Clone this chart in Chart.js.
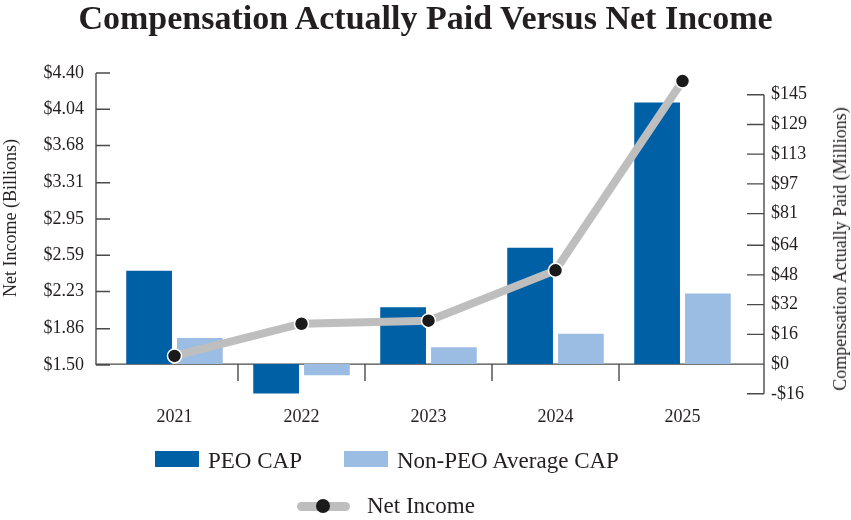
<!DOCTYPE html>
<html>
<head>
<meta charset="utf-8">
<script src="https://cdn.jsdelivr.net/npm/chart.js@4/dist/chart.umd.min.js"></script>
<style>
  html, body { margin: 0; padding: 0; background: #fff; }
  #wrap { position: relative; width: 851px; height: 520px; overflow: hidden; font-family: 'Liberation Serif', 'DejaVu Serif', serif; color: #231f20; }
  #c { position: absolute; left: 0; top: 0; }
  .abs { position: absolute; white-space: nowrap; }
  #title { left: 0; width: 851px; top: 1px; text-align: center; font-size: 34px; line-height: 34px; font-weight: bold; }
  .axt { font-size: 18px; line-height: 18px; transform: translate(-50%, -50%) rotate(-90deg); }
  .leg { font-size: 23px; line-height: 23px; }
  .box { position: absolute; width: 44px; height: 16px; }
</style>
</head>
<body>
<div id="wrap">
  <canvas id="c" width="851" height="520"></canvas>
  <div id="title" class="abs">Compensation Actually Paid Versus Net Income</div>
  <div class="abs axt" style="left:10px; top:218px;">Net Income (Billions)</div>
  <div class="abs axt" style="left:840px; top:249px;">Compensation Actually Paid (Millions)</div>
  <div class="box" style="left:155px; top:451px; background:#0060a6;"></div>
  <div class="abs leg" style="left:208px; top:449px;">PEO CAP</div>
  <div class="box" style="left:344px; top:451px; background:#9cbde3;"></div>
  <div class="abs leg" style="left:397px; top:449px;">Non-PEO Average CAP</div>
  <div class="abs" style="left:297px; top:502px; width:53px; height:9px; border-radius:5px; background:#bebebe;"></div>
  <div class="abs" style="left:316px; top:499px; width:14px; height:14px; border-radius:50%; background:#1a1a1a;"></div>
  <div class="abs leg" style="left:367px; top:494px;">Net Income</div>
</div>
<script>
const years = ['2021', '2022', '2023', '2024', '2025'];
const peoCap = [50.3, -15.9, 30.6, 62.6, 140.8];          // $ millions
const nonPeoCap = [14.1, -6.0, 9.0, 16.3, 38.0];          // $ millions
const netIncome = [1.59, 1.91, 1.94, 2.44, 4.32];         // $ billions
const leftTicks = [1.50, 1.86, 2.23, 2.59, 2.95, 3.31, 3.68, 4.04, 4.40];
const rightTicks = [-16, 0, 16, 32, 48, 64, 81, 97, 113, 129, 145];

const TEXT = '#231f20';
const AXIS = '#4a4a4a';

Chart.defaults.font.family = "'Liberation Serif', 'DejaVu Serif', serif";
Chart.defaults.color = TEXT;

const axisPlugin = {
  id: 'axisPlugin',
  beforeDatasetsDraw(chart) {
    const ctx = chart.ctx;
    const ca = chart.chartArea;
    const yL = chart.scales.yL, yR = chart.scales.yR, x = chart.scales.x;
    const lx = ca.left - 15, rx = ca.right + 18;
    const base = yR.getPixelForValue(0);
    ctx.save();
    ctx.strokeStyle = AXIS;
    ctx.lineWidth = 1.4;
    ctx.beginPath();
    // left axis
    ctx.moveTo(lx, yL.getPixelForValue(leftTicks[leftTicks.length - 1]));
    ctx.lineTo(lx, yL.getPixelForValue(leftTicks[0]));
    leftTicks.forEach(v => { const p = yL.getPixelForValue(v); ctx.moveTo(lx, p); ctx.lineTo(lx + 14, p); });
    // right axis
    ctx.moveTo(rx, yR.getPixelForValue(rightTicks[rightTicks.length - 1]));
    ctx.lineTo(rx, yR.getPixelForValue(rightTicks[0]));
    rightTicks.forEach(v => { const p = yR.getPixelForValue(v); ctx.moveTo(rx - 17, p); ctx.lineTo(rx, p); });
    // baseline
    ctx.moveTo(lx, base); ctx.lineTo(rx, base);
    // category separators
    for (let i = 0; i < years.length - 1; i++) {
      const p = (x.getPixelForValue(i) + x.getPixelForValue(i + 1)) / 2;
      ctx.moveTo(p, base); ctx.lineTo(p, base + 17);
    }
    ctx.stroke();
    ctx.restore();
  }
};

new Chart(document.getElementById('c'), {
  data: {
    labels: years,
    datasets: [
      {
        type: 'line', label: 'Net Income', data: netIncome, yAxisID: 'yL', order: 0,
        borderColor: '#bebebe', borderWidth: 8, tension: 0, borderCapStyle: 'round', borderJoinStyle: 'round',
        pointRadius: 7, pointHoverRadius: 7, pointBackgroundColor: '#1a1a1a',
        pointBorderColor: '#ffffff', pointBorderWidth: 1.5
      },
      {
        type: 'bar', label: 'PEO CAP', data: peoCap, yAxisID: 'yR', order: 1,
        backgroundColor: '#0060a6', categoryPercentage: 0.8, barPercentage: 0.9
      },
      {
        type: 'bar', label: 'Non-PEO Average CAP', data: nonPeoCap, yAxisID: 'yR', order: 1,
        backgroundColor: '#9cbde3', categoryPercentage: 0.8, barPercentage: 0.9
      }
    ]
  },
  options: {
    responsive: false,
    animation: false,
    layout: { padding: { top: 73, left: 0, right: 0, bottom: 0 } },
    plugins: { legend: { display: false }, title: { display: false }, tooltip: { enabled: false } },
    scales: {
      x: {
        type: 'category', offset: true,
        grid: { display: false, drawTicks: false }, border: { display: false },
        ticks: { font: { size: 18 }, color: TEXT, padding: 12, maxRotation: 0 },
        afterFit(s) { s.height = 126; }
      },
      yL: {
        type: 'linear', position: 'left', min: 1.212, max: 4.40,
        grid: { display: false, drawTicks: false }, border: { display: false },
        afterBuildTicks(s) { s.ticks = leftTicks.map(v => ({ value: v })); },
        ticks: { font: { size: 18 }, color: TEXT, padding: 27, callback: v => '$' + Number(v).toFixed(2) },
        afterFit(s) { s.width = 111; }
      },
      yR: {
        type: 'linear', position: 'right', min: -16.11, max: 156.7,
        grid: { display: false, drawTicks: false }, border: { display: false },
        afterBuildTicks(s) { s.ticks = rightTicks.map(v => ({ value: v })); },
        ticks: { font: { size: 18 }, color: TEXT, padding: 25,
          callback: v => (v < 0 ? '-$' + Math.round(-v) : '$' + Math.round(v)) },
        afterFit(s) { s.width = 105; }
      }
    }
  },
  plugins: [axisPlugin]
});
</script>
</body>
</html>
